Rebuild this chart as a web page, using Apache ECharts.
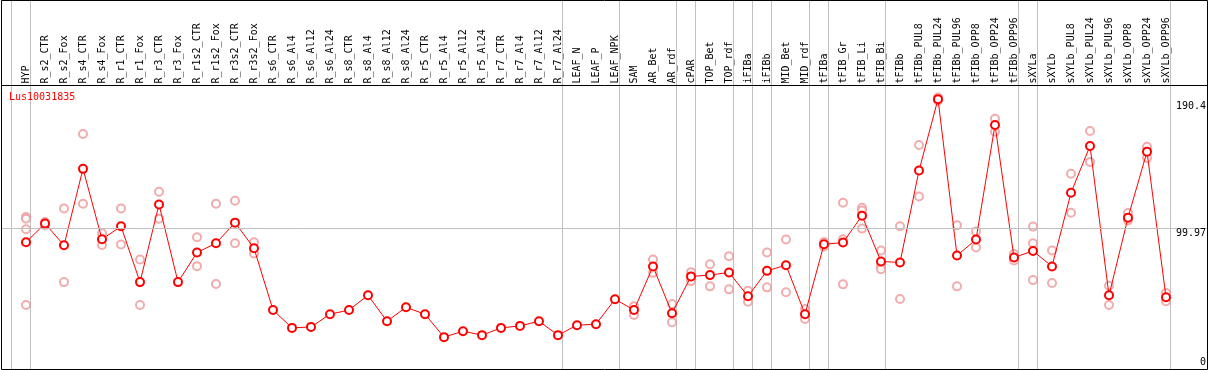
<!DOCTYPE html>
<html>
<head>
<meta charset="utf-8">
<script src="https://cdn.jsdelivr.net/npm/echarts@6/dist/echarts.min.js"></script>
<style>
html,body{margin:0;padding:0;background:#fff;}
#chart{width:1209px;height:370px;}
</style>
</head>
<body>
<div id="chart"></div>
<script>
const chartTitle = 'Lus10031835';
const categories = ['HYP','R_s2_CTR','R_s2_Fox','R_s4_CTR','R_s4_Fox','R_r1_CTR','R_r1_Fox','R_r3_CTR','R_r3_Fox',
  'R_r1s2_CTR','R_r1s2_Fox','R_r3s2_CTR','R_r3s2_Fox','R_s6_CTR','R_s6_Al4','R_s6_Al12','R_s6_Al24',
  'R_s8_CTR','R_s8_Al4','R_s8_Al12','R_s8_Al24','R_r5_CTR','R_r5_Al4','R_r5_Al12','R_r5_Al24',
  'R_r7_CTR','R_r7_Al4','R_r7_Al12','R_r7_Al24','LEAF_N','LEAF_P','LEAF_NPK','SAM','AR_Bet','AR_rdf',
  'cPAR','TOP_Bet','TOP_rdf','iFIBa','iFIBb','MID_Bet','MID_rdf','tFIBa','tFIB_Gr','tFIB_Li','tFIB_Bi',
  'tFIBb','tFIBb_PUL8','tFIBb_PUL24','tFIBb_PUL96','tFIBb_OPP8','tFIBb_OPP24','tFIBb_OPP96',
  'sXYLa','sXYLb','sXYLb_PUL8','sXYLb_PUL24','sXYLb_PUL96','sXYLb_OPP8','sXYLb_OPP24','sXYLb_OPP96'];
const means = [89.8,102.9,87.7,141.4,91.9,101.0,61.8,116.4,61.8,82.6,89.1,103.6,85.6,
  42.2,29.6,30.3,39.2,42.2,52.5,34.3,44.1,39.2,23.1,27.3,24.5,29.6,31.0,34.3,24.5,
  31.5,32.2,49.7,42.2,72.8,39.9,65.8,66.7,68.6,51.8,69.7,73.7,39.2,88.4,89.6,108.5,76.3,
  75.6,140.2,190.4,80.5,91.7,172.2,79.1,83.7,72.8,124.6,157.5,52.5,107.1,153.5,51.1];
const replicates = [
  [107.5,106.4,98.9,45.7],[104.0,101.8],[113.6,61.8],[165.9,116.9],[96.1,87.9],[113.6,88.2],
  [77.7,45.7],[125.3,106.4],[],[93.3,73.0],[116.9,60.4],[119.0,89.1],[89.8,81.9],
  [],[],[],[],[],[],[],[],[],[],[],[],[],[],[],[],[],[],[],
  [44.8,38.7],[77.7,68.3],[46.4,33.6],[68.8,62.5],[74.4,58.8],[80.0,56.7],[55.7,48.0],
  [82.6,58.1],[91.7,54.6],[42.9,35.9],[90.0,86.8],[117.6,91.9,60.2],[114.1,112.2,99.4],
  [84.0,73.2,70.9],[101.0,49.9],[158.2,122.0],[191.5,189.3],[101.7,58.8],[97.3,86.1],
  [176.6,167.5],[81.6,77.0],[100.8,89.1,63.2],[84.0,61.1],[137.9,110.6],[168.0,146.3],
  [59.2,45.7],[110.3,105.2],[157.0,149.1],[54.1,48.3]];
const groupEnds = [-1,0,28,31,34,35,37,38,39,41,42,45,52,53,60];
const refValues = [190.4, 99.97, 0];
const refLabels = ['190.4', '99.97', '0'];
const yMax = 200;

const FONT = 'DejaVu Sans Mono';
const xMin = -25/19, xMax = xMin + 1206/19;
const sepOffset = 4.5/19;
const SHIFT = 2; // separator axis shifted so all its values are positive

const meanData = means.map((v, i) => [i, v]);
const repData = [];
replicates.forEach((r, i) => r.forEach(v => repData.push([i, v])));
const sepData = groupEnds.map(g => ({coords: [[g + SHIFT + sepOffset, 0], [g + SHIFT + sepOffset, 1]]}));

const refStyles = [
  {line: false, pos: 'insideEndBottom', dist: [1, 2]},
  {line: true, pos: 'insideEndBottom', dist: [1, 1]},
  {line: false, pos: 'insideEndTop', dist: [1, 3]}
];

const chart = echarts.init(document.getElementById('chart'), null, {renderer: 'canvas'});
chart.setOption({
  animation: false,
  backgroundColor: '#fff',
  title: {text: chartTitle, left: 4, top: 87,
    textStyle: {color: '#ff0000', fontSize: 10, fontWeight: 'normal', fontFamily: FONT}},
  grid: [
    {left: 1, top: 0, width: 1206, height: 370},
    {left: 1, top: 85.5, width: 1206, height: 285.8},
    {left: 16.5, top: 85.5, width: 1159, height: 285.8}
  ],
  xAxis: [
    {gridIndex: 0, type: 'value', min: xMin + SHIFT, max: xMax + SHIFT, show: false},
    {gridIndex: 1, type: 'value', min: xMin, max: xMax, show: false},
    {gridIndex: 2, type: 'category', data: categories, position: 'top', boundaryGap: true,
      axisLine: {show: false}, axisTick: {show: false}, splitLine: {show: false},
      axisLabel: {rotate: 90, interval: 0, margin: 2, fontSize: 10, fontFamily: FONT, color: '#000'}}
  ],
  yAxis: [
    {gridIndex: 0, type: 'value', min: 0, max: 1, show: false},
    {gridIndex: 1, type: 'value', min: 0, max: yMax, show: false},
    {gridIndex: 2, type: 'value', min: 0, max: 1, show: false}
  ],
  series: [
    {type: 'lines', coordinateSystem: 'cartesian2d', xAxisIndex: 0, yAxisIndex: 0, z: 0, silent: true,
      data: sepData, lineStyle: {color: '#c0c0c0', width: 1, opacity: 1, curveness: 0}},
    {type: 'scatter', xAxisIndex: 1, yAxisIndex: 1, data: [], z: 1, silent: true,
      markLine: {silent: true, symbol: 'none', animation: false,
        data: refValues.map((v, k) => ({
          yAxis: v,
          lineStyle: {color: refStyles[k].line ? '#c0c0c0' : 'rgba(0,0,0,0)', width: 1, type: 'solid'},
          label: {show: true, position: refStyles[k].pos, distance: refStyles[k].dist,
            formatter: refLabels[k], color: '#000', fontSize: 10, fontFamily: FONT}
        }))}},
    {type: 'scatter', xAxisIndex: 1, yAxisIndex: 1, data: repData, z: 2, silent: true,
      symbol: 'emptyCircle', symbolSize: 8,
      itemStyle: {color: '#ee9999', borderColor: '#ee9999', borderWidth: 1.2}},
    {type: 'line', xAxisIndex: 1, yAxisIndex: 1, data: meanData, z: 3, silent: true,
      symbol: 'emptyCircle', symbolSize: 8,
      lineStyle: {color: '#ff0000', width: 1},
      itemStyle: {color: '#ff0000', borderColor: '#ff0000', borderWidth: 1.6}}
  ],
  graphic: [
    {type: 'rect', z: 100, silent: true, shape: {x: 1.5, y: 0.5, width: 1206, height: 369},
      style: {fill: null, stroke: '#000', lineWidth: 1}},
    {type: 'line', z: 100, silent: true, shape: {x1: 1.5, y1: 85.5, x2: 1207.5, y2: 85.5},
      style: {stroke: '#000', lineWidth: 1}}
  ]
});
</script>
</body>
</html>
